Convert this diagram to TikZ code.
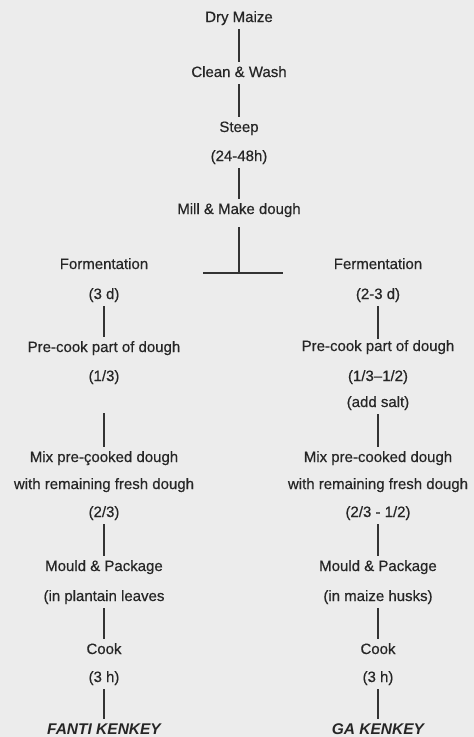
\documentclass[tikz,border=0pt]{standalone}
\usepackage{fontspec}
\setmainfont{Liberation Sans}
\definecolor{bgpaper}{HTML}{ECECEC}
\definecolor{inkgray}{HTML}{262626}
\definecolor{linegray}{HTML}{333333}
\begin{document}
\begin{tikzpicture}[x=1pt,y=-1pt,
  lbl/.style={inner sep=0pt, text height=11pt, text depth=3pt, text=inkgray,
    font=\fontsize{15}{17}\selectfont\addfontfeature{FakeBold=0.5}},
  endlbl/.style={inner sep=0pt, text height=11pt, text depth=3pt, text=inkgray,
    font=\fontsize{15.5}{17}\selectfont\bfseries\itshape},
  link/.style={draw=linegray, line width=2.5pt, shorten <=4pt, shorten >=4pt}]
\fill[bgpaper] (0,0) rectangle (474,737);
\useasboundingbox (0,0) rectangle (474,737);
% centre column
\node[lbl] (dry) at (239,18) {Dry Maize};
\node[lbl] (clean) at (239,73) {Clean \& Wash};
\node[lbl] (steep) at (239,128) {Steep};
\node[lbl] (steept) at (239,157) {(24-48h)};
\node[lbl] (mill) at (239,210) {Mill \& Make dough};
\coordinate (barM) at (239,273);
\coordinate (barL) at (203,273);
\coordinate (barR) at (283,273);
\draw[link] (dry) -- (clean);
\draw[link] (clean) -- (steep);
\draw[link] (steept) -- (mill);
\draw[link, shorten >=0pt, shorten <=10pt] (mill) -- (barM);
\draw[draw=linegray, line width=2.5pt] (barL) -- (barR);
% left column
\node[lbl] (lferm) at (104,265) {Formentation};
\node[lbl] (lfermt) at (104,295) {(3 d)};
\node[lbl] (lpre) at (104,348) {Pre-cook part of dough};
\node[lbl] (lpref) at (104,377) {(1/3)};
\node[lbl] (lmix) at (104,458) {Mix pre-çooked dough};
\node[lbl] (lwith) at (104,485) {with remaining fresh dough};
\node[lbl] (lmixf) at (104,513) {(2/3)};
\node[lbl] (lmould) at (104,567) {Mould \& Package};
\node[lbl] (lleaf) at (104,597) {(in plantain leaves};
\node[lbl] (lcook) at (104,650) {Cook};
\node[lbl] (lcookt) at (104,678) {(3 h)};
\node[endlbl] (fanti) at (104,730) {FANTI KENKEY};
\draw[link] (lfermt) -- (lpre);
\draw[link, shorten <=29pt] (lpref) -- (lmix);
\draw[link] (lmixf) -- (lmould);
\draw[link] (lleaf) -- (lcook);
\draw[link] (lcookt) -- (fanti);
% right column
\node[lbl] (rferm) at (378,265) {Fermentation};
\node[lbl] (rfermt) at (378,295) {(2-3 d)};
\node[lbl] (rpre) at (378,347) {Pre-cook part of dough};
\node[lbl] (rpref) at (378,377) {(1/3--1/2)};
\node[lbl] (rsalt) at (378,403) {(add salt)};
\node[lbl] (rmix) at (378,458) {Mix pre-cooked dough};
\node[lbl] (rwith) at (378,485) {with remaining fresh dough};
\node[lbl] (rmixf) at (378,513) {(2/3 - 1/2)};
\node[lbl] (rmould) at (378,567) {Mould \& Package};
\node[lbl] (rhusk) at (378,597) {(in maize husks)};
\node[lbl] (rcook) at (378,650) {Cook};
\node[lbl] (rcookt) at (378,678) {(3 h)};
\node[endlbl] (ga) at (378,730) {GA KENKEY};
\draw[link, shorten >=1pt] (rfermt) -- (rpre);
\draw[link] (rsalt) -- (rmix);
\draw[link] (rmixf) -- (rmould);
\draw[link] (rhusk) -- (rcook);
\draw[link] (rcookt) -- (ga);
\end{tikzpicture}
\end{document}
